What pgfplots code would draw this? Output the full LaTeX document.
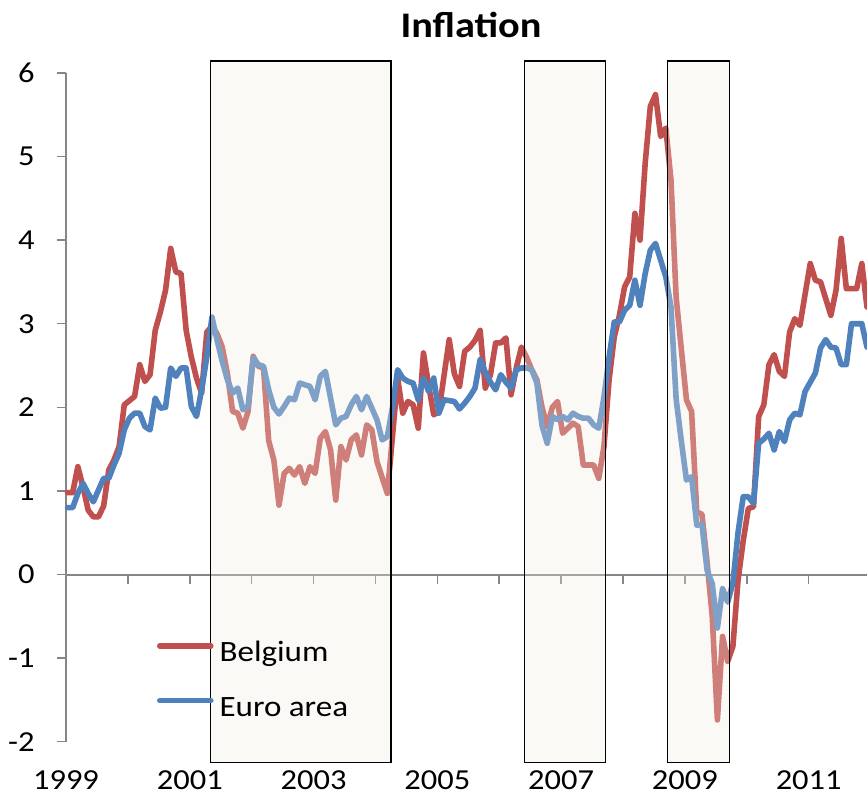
\documentclass[border=0pt]{standalone}
\usepackage{fontspec}
\setmainfont{Carlito}[FakeStretch=1.12]
\usepackage{pgfplots}
\pgfplotsset{compat=1.18}
\usepackage{pgfplotstable}
\definecolor{bel}{RGB}{192,80,77}
\definecolor{eur}{RGB}{79,129,189}
\definecolor{axgray}{RGB}{134,134,134}
\definecolor{boxfill}{RGB}{240,236,225}

% m = months since January 1999
\pgfplotstableread{
m v
0 0.98
1 0.98
2 1.29
3 1.05
4 0.77
5 0.69
6 0.69
7 0.82
8 1.25
9 1.37
10 1.53
11 2.03
12 2.08
13 2.13
14 2.51
15 2.31
16 2.39
17 2.92
18 3.14
19 3.40
20 3.90
21 3.62
22 3.60
23 2.92
24 2.60
25 2.35
26 2.17
27 2.90
28 2.97
29 2.88
30 2.72
31 2.40
32 1.95
33 1.93
34 1.75
35 1.95
36 2.61
37 2.49
38 2.47
39 1.60
40 1.37
41 0.83
42 1.21
43 1.27
44 1.19
45 1.29
46 1.09
47 1.29
48 1.21
49 1.63
50 1.71
51 1.49
52 0.89
53 1.53
54 1.37
55 1.61
56 1.67
57 1.43
58 1.79
59 1.73
60 1.35
61 1.16
62 0.97
63 1.65
64 2.35
65 1.93
66 2.07
67 2.03
68 1.75
69 2.65
70 2.27
71 1.91
72 1.95
73 2.38
74 2.81
75 2.40
76 2.25
77 2.67
78 2.72
79 2.80
80 2.92
81 2.23
82 2.39
83 2.77
84 2.77
85 2.83
86 2.15
87 2.47
88 2.72
89 2.60
90 2.45
91 2.33
92 2.00
93 1.77
94 2.00
95 2.07
96 1.69
97 1.75
98 1.81
99 1.77
100 1.31
101 1.31
102 1.31
103 1.15
104 1.53
105 2.33
106 2.84
107 3.10
108 3.44
109 3.56
110 4.32
111 4.00
112 4.92
113 5.60
114 5.74
115 5.24
116 5.34
117 4.72
118 3.32
119 2.70
120 2.09
121 1.95
122 0.75
123 0.72
124 0.15
125 -0.50
126 -1.74
127 -0.74
128 -1.04
129 -0.86
130 -0.07
131 0.40
132 0.79
133 0.81
134 1.89
135 2.03
136 2.51
137 2.63
138 2.43
139 2.37
140 2.90
141 3.06
142 2.98
143 3.35
144 3.72
145 3.52
146 3.50
147 3.30
148 3.10
149 3.40
150 4.02
151 3.42
152 3.42
153 3.42
154 3.72
155 3.20
}\belgium

\pgfplotstableread{
m v
0 0.80
1 0.80
2 0.97
3 1.09
4 0.97
5 0.87
6 1.01
7 1.15
8 1.15
9 1.31
10 1.45
11 1.73
12 1.87
13 1.93
14 1.93
15 1.77
16 1.73
17 2.11
18 1.99
19 2.00
20 2.47
21 2.37
22 2.47
23 2.47
24 2.01
25 1.89
26 2.21
27 2.60
28 3.08
29 2.80
30 2.55
31 2.33
32 2.17
33 2.23
34 1.97
35 2.01
36 2.59
37 2.51
38 2.49
39 2.21
40 2.00
41 1.92
42 2.01
43 2.11
44 2.09
45 2.29
46 2.27
47 2.25
48 2.09
49 2.37
50 2.43
51 2.11
52 1.79
53 1.87
54 1.89
55 2.03
56 2.13
57 1.97
58 2.13
59 1.99
60 1.85
61 1.61
62 1.65
63 2.00
64 2.45
65 2.35
66 2.31
67 2.29
68 2.09
69 2.35
70 2.19
71 2.35
72 1.93
73 2.09
74 2.08
75 2.07
76 1.98
77 2.05
78 2.13
79 2.23
80 2.57
81 2.42
82 2.30
83 2.21
84 2.39
85 2.30
86 2.23
87 2.45
88 2.47
89 2.47
90 2.45
91 2.29
92 1.78
93 1.57
94 1.89
95 1.85
96 1.89
97 1.85
98 1.93
99 1.89
100 1.87
101 1.87
102 1.79
103 1.75
104 2.12
105 2.60
106 3.02
107 3.02
108 3.16
109 3.22
110 3.52
111 3.22
112 3.60
113 3.88
114 3.96
115 3.76
116 3.56
117 3.20
118 2.10
119 1.60
120 1.13
121 1.17
122 0.59
123 0.60
124 0.05
125 -0.11
126 -0.64
127 -0.17
128 -0.33
129 -0.10
130 0.50
131 0.93
132 0.93
133 0.85
134 1.57
135 1.62
136 1.69
137 1.49
138 1.71
139 1.59
140 1.85
141 1.93
142 1.91
143 2.19
144 2.30
145 2.41
146 2.71
147 2.81
148 2.72
149 2.71
150 2.51
151 2.51
152 3.00
153 3.00
154 3.00
155 2.72
}\euro

\begin{document}
\begin{tikzpicture}
\begin{axis}[
  at={(0pt,0pt)}, anchor=south west,
  scale only axis, width=801pt, height=710.6pt,
  xmin=1999, xmax=2011.942, ymin=-2.3, ymax=6.2,
  axis lines*=left, axis line style={draw=none},
  clip=false,
  xtick={1999,2001,2003,2005,2007,2009,2011},
  xticklabels={1999,2001,2003,2005,2007,2009,2011},
  xtick style={draw=none},
  ytick={-2,-1,0,1,2,3,4,5,6},
  yticklabels={-2,-1,0,1,2,3,4,5,6},
  ytick style={draw=axgray, line width=1.5pt},
  tick align=outside, major tick length=9pt,
  ticklabel style={font=\fontsize{29}{35}\selectfont, text=black},
  xticklabel style={inner sep=0pt, yshift=5.5pt},
  yticklabel style={xshift=-19pt},
  legend style={at={(axis cs:2000.47,-0.807)}, anchor=north west,
    draw=none, fill=none, inner sep=0pt, outer sep=0pt,
    row sep=28.7pt, column sep=6pt,
    font=\fontsize{29.5}{35}\selectfont,
    nodes={inner sep=0pt, text height=20pt, text depth=6pt}},
  legend cell align=left,
  legend image code/.code={\draw[#1, line cap=round] (2.5pt,9pt) -- (53.5pt,9pt);},
]
\draw[axgray, line width=2pt] (axis cs:1999,0) -- (axis cs:2011.942,0);
\pgfplotsinvokeforeach{2000,...,2011}{
  \draw[axgray, line width=1.5pt] (axis cs:#1,0) -- ++(0pt,-9pt);
}
\draw[axgray, line width=2pt] (axis cs:1999,-2) -- (axis cs:1999,6);

\addplot[bel, line width=5.6pt, line join=round, line cap=round]
  table[x expr=1999+(\thisrow{m}+0.3)/12, y=v]{\belgium};
\addlegendentry{Belgium}
\addplot[eur, line width=5.6pt, line join=round, line cap=round]
  table[x expr=1999+(\thisrow{m}+0.3)/12, y=v]{\euro};
\addlegendentry{Euro area}

\fill[boxfill, fill opacity=0.3] (axis cs:2001.338,-2.246) rectangle (axis cs:2004.250,6.142);
\fill[boxfill, fill opacity=0.3] (axis cs:2006.404,-2.246) rectangle (axis cs:2007.712,6.142);
\fill[boxfill, fill opacity=0.3] (axis cs:2008.714,-2.246) rectangle (axis cs:2009.716,6.142);
\draw[black, line width=1.3pt] (axis cs:2001.338,-2.246) rectangle (axis cs:2004.250,6.142);
\draw[black, line width=1.3pt] (axis cs:2006.404,-2.246) rectangle (axis cs:2007.712,6.142);
\draw[black, line width=1.3pt] (axis cs:2008.714,-2.246) rectangle (axis cs:2009.716,6.142);
\end{axis}
\node[anchor=base, font=\fontsize{36}{43}\selectfont\bfseries] at (405pt,728.8pt) {Inflation};
\pgfresetboundingbox
\path[use as bounding box] (-66pt,-28.2pt) rectangle (801pt,766.8pt);
\end{tikzpicture}
\end{document}
